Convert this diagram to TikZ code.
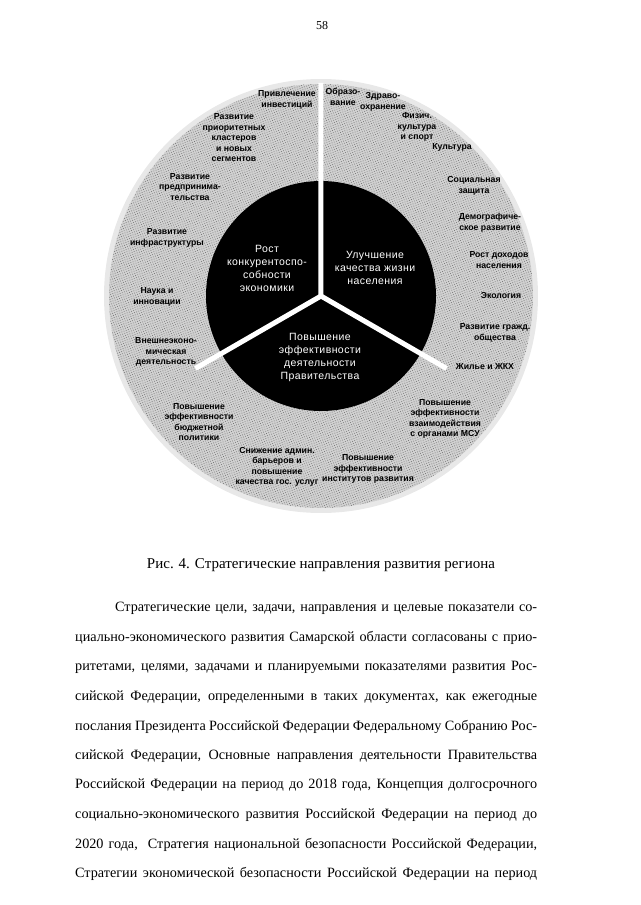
\documentclass[tikz,border=0pt]{standalone}
\usepackage{fontspec}
\setmainfont{Liberation Serif}
\newfontfamily\labelfont{Liberation Sans}
\newfontfamily\innerfont[LetterSpace=4]{Liberation Sans}
\usetikzlibrary{patterns.meta}

\begin{document}
\begin{tikzpicture}[x=1pt, y=1pt,
  item/.style={font=\labelfont\bfseries\fontsize{8.7}{10.5}\selectfont, align=center, inner sep=0pt},
  sector/.style={font=\innerfont\fontsize{10.5}{13}\selectfont, text=white, align=center, inner sep=0pt},
  bodyline/.style={anchor=west, inner sep=0pt, font=\fontsize{14.2}{18}\selectfont}]
  \useasboundingbox (-321,-609) rectangle (319,296);
  % stippled ring
  \fill[black!9] (0,0) circle (217);
  \fill[black!18] (0,0) circle (212);
  \fill[pattern={Dots[radius=0.5pt, distance=2.3pt, angle=20]}, pattern color=black!55] (0,0) circle (212);
  % inner disc with white gaps
  \fill (0,0) circle (115);
  \draw[white, line width=5pt] (0,0) -- (90:213) (0,0) -- (210:145) (0,0) -- (-30:145);

  \node[sector] (econ) at (-54,28) {Рост\\конкурентоспо-\\собности\\экономики};
  \node[sector] (life) at (54,28) {Улучшение\\качества жизни\\населения};
  \node[sector] (gov) at (-1,-61) {Повышение\\эффективности\\деятельности\\Правительства};

  % right half
  \node[item] (edu) at (22,199) {Образо-\\вание};
  \node[item] (health) at (62,194) {Здраво-\\охранение};
  \node[item] (sport) at (96,169) {Физич.\\культура\\и спорт};
  \node[item] (cult) at (131,149) {Культура};
  \node[item] (social) at (153,110) {Социальная\\защита};
  \node[item] (demo) at (169,73) {Демографиче-\\ское развитие};
  \node[item] (income) at (178,36) {Рост доходов\\населения};
  \node[item] (eco) at (180,0) {Экология};
  \node[item] (civil) at (174,-37) {Развитие гражд.\\общества};
  \node[item] (house) at (164,-71) {Жилье и ЖКХ};
  % bottom
  \node[item] (msu) at (124,-123) {Повышение\\эффективности\\взаимодействия\\с органами МСУ};
  \node[item] (inst) at (47,-173) {Повышение\\эффективности\\институтов развития};
  \node[item] (admin) at (-44,-171) {Снижение админ.\\барьеров и\\повышение\\качества гос. услуг};
  \node[item] (budget) at (-122,-126) {Повышение\\эффективности\\бюджетной\\политики};
  % left half
  \node[item] (foreign) at (-155,-56) {Внешнеэконо-\\мическая\\деятельность};
  \node[item] (science) at (-164,-1) {Наука и\\инновации};
  \node[item] (infra) at (-154,58) {Развитие\\инфраструктуры};
  \node[item] (business) at (-131,109) {Развитие\\предпринима-\\тельства};
  \node[item] (cluster) at (-87,158) {Развитие\\приоритетных\\кластеров\\и новых\\сегментов};
  \node[item] (invest) at (-34,196) {Привлечение\\инвестиций};

  % page text
  \node[font=\fontsize{12}{14}\selectfont] (pagenum) at (1,270) {58};
  \node[font=\fontsize{15}{18}\selectfont] (caption) at (0,-269) {Рис. 4. Стратегические направления развития региона};
  \node[bodyline] (l1) at (-206,-312) {\makebox[422pt][s]{Стратегические цели, задачи, направления и целевые показатели со-}};
  \node[bodyline] (l2) at (-246,-342) {\makebox[462pt][s]{циально-экономического развития Самарской области согласованы с прио-}};
  \node[bodyline] (l3) at (-246,-371) {\makebox[462pt][s]{ритетами, целями, задачами и планируемыми показателями развития Рос-}};
  \node[bodyline] (l4) at (-246,-401) {\makebox[462pt][s]{сийской Федерации, определенными в таких документах, как ежегодные}};
  \node[bodyline] (l5) at (-246,-431) {\makebox[462pt][s]{послания Президента Российской Федерации Федеральному Собранию Рос-}};
  \node[bodyline] (l6) at (-246,-460) {\makebox[462pt][s]{сийской Федерации, Основные направления деятельности Правительства}};
  \node[bodyline] (l7) at (-246,-489) {\makebox[462pt][s]{Российской Федерации на период до 2018 года, Концепция долгосрочного}};
  \node[bodyline] (l8) at (-246,-519) {\makebox[462pt][s]{социально-экономического развития Российской Федерации на период до}};
  \node[bodyline] (l9) at (-246,-549) {\makebox[462pt][s]{2020 года,\ \ Стратегия национальной безопасности Российской Федерации,}};
  \node[bodyline] (l10) at (-246,-578) {\makebox[462pt][s]{Стратегии экономической безопасности Российской Федерации на период}};
\end{tikzpicture}
\end{document}
